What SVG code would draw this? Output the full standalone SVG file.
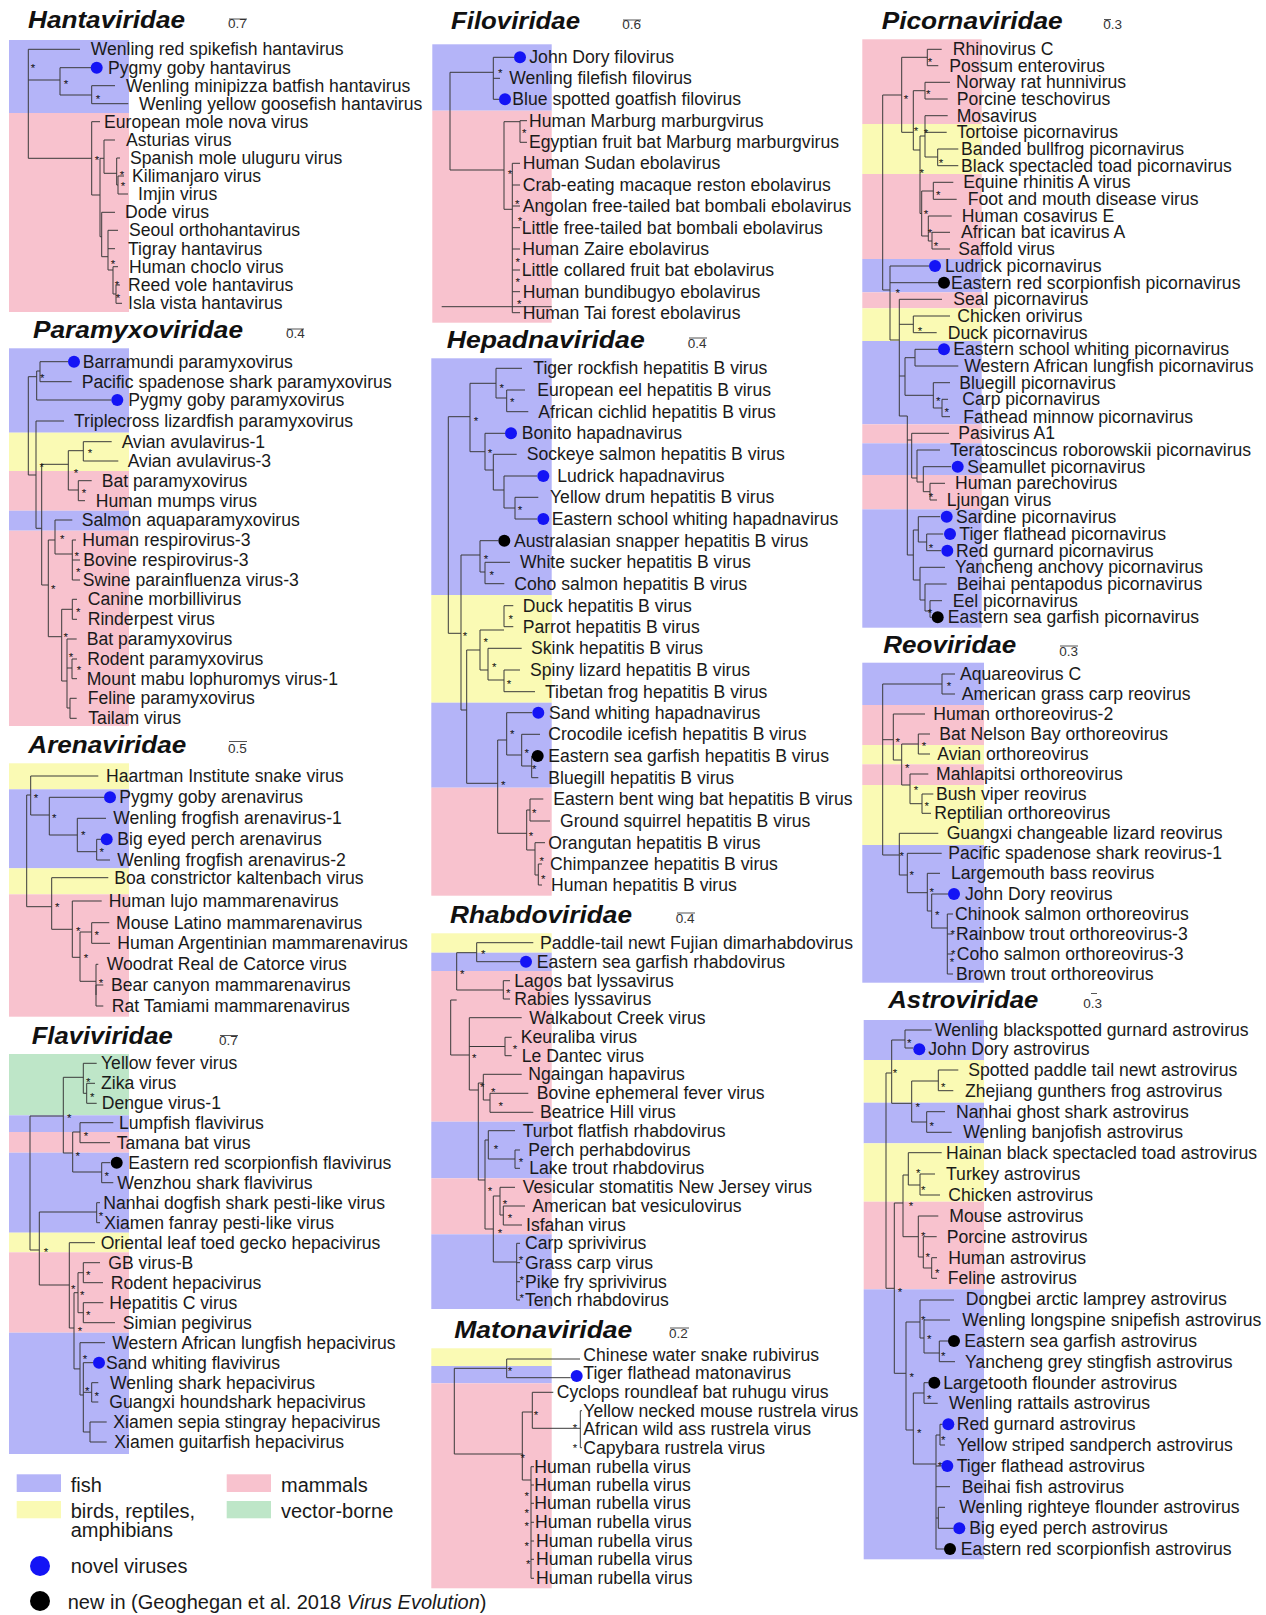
<svg xmlns="http://www.w3.org/2000/svg" width="1266" height="1615" viewBox="0 0 1266 1615">
<style>
.t{font-family:"Liberation Sans",Arial,sans-serif;font-size:17.6px;fill:#1a1a1a}
.h{font-family:"Liberation Sans",Arial,sans-serif;font-size:23px;font-weight:bold;font-style:italic;fill:#111}
.s{font-family:"Liberation Sans",Arial,sans-serif;font-size:13.5px;fill:#333}
.a{font-family:"Liberation Sans",Arial,sans-serif;font-size:11.5px;fill:#111;text-anchor:middle;transform:translateY(1.8px)}
.lg{font-family:"Liberation Sans",Arial,sans-serif;font-size:20px;fill:#1a1a1a}
.br{fill:none;stroke:#3a3a3a;stroke-width:1}
.sb{fill:none;stroke:#555;stroke-width:1}
.fi{fill:#b4b4f8}.ma{fill:#f8c2ce}.bi{fill:#fafab4}.ve{fill:#bee6c8}
.nv{fill:#1414f5}.nw{fill:#000}
</style>
<rect width="1266" height="1615" fill="#fff"/>

<!-- Hantaviridae -->
<g id="hantaviridae">
<rect class="fi" x="9" y="40" width="120" height="73"/><rect class="ma" x="9" y="113" width="120" height="199"/>
<text class="h" x="28" y="28.3" textLength="157" lengthAdjust="spacingAndGlyphs">Hantaviridae</text>
<path class="sb" d="M229 19H247"/><text class="s" x="228" y="28.3">0.7</text>
<g id="hanta-branches"><path class="br" d="M28.3 49.3V158.3M28.3 49.3H80M28.3 80H60M28.3 158.3H91.7M60 67.7V95M60 67.7H91M60 95H91.7M91.7 85.7V103.7M91.7 85.7H115M91.7 103.7H128.3M91.7 121.7V195M91.7 121.7H100M91.7 195H100M100 158.3V236.7M100 158.3H104M100 236.7H101.7M104 140V173.3M104 140H115M104 173.3H116.7M116.7 158V185M116.7 158H120M116.7 185H118M118 176V194M118 176H124M118 194H128M101.7 212.3V256.7M101.7 212.3H115M101.7 256.7H108M108 230.3V270M108 230.3H118M108 248.7H115M108 270H113M113 266.7V294M113 266.7H118M113 294H116M116 285V303.3M116 285H120M116 303.3H122"/></g>
<circle class="nv" cx="96.7" cy="67.7" r="6"/>
<text class="t" x="90.7" y="55.3">Wenling red spikefish hantavirus</text>
<text class="t" x="108" y="73.7">Pygmy goby hantavirus</text>
<text class="t" x="126" y="91.7">Wenling minipizza batfish hantavirus</text>
<text class="t" x="139" y="109.7">Wenling yellow goosefish hantavirus</text>
<text class="t" x="104" y="127.7">European mole nova virus</text>
<text class="t" x="126" y="146">Asturias virus</text>
<text class="t" x="130" y="164">Spanish mole uluguru virus</text>
<text class="t" x="132" y="182">Kilimanjaro virus</text>
<text class="t" x="138" y="200">Imjin virus</text>
<text class="t" x="125" y="218.3">Dode virus</text>
<text class="t" x="129" y="236.3">Seoul orthohantavirus</text>
<text class="t" x="128" y="254.7">Tigray hantavirus</text>
<text class="t" x="129" y="272.7">Human choclo virus</text>
<text class="t" x="128" y="291">Reed vole hantavirus</text>
<text class="t" x="128" y="309.3">Isla vista hantavirus</text>
<text class="a" x="33" y="70">*</text><text class="a" x="66" y="86">*</text><text class="a" x="98" y="101">*</text><text class="a" x="97" y="162">*</text><text class="a" x="122" y="177">*</text><text class="a" x="123" y="188">*</text><text class="a" x="113" y="266">*</text><text class="a" x="117" y="287">*</text><text class="a" x="118" y="300">*</text>
</g>

<!-- Paramyxoviridae -->
<g id="paramyxoviridae">
<rect class="fi" x="9" y="348.3" width="120" height="84.4"/><rect class="bi" x="9" y="432.7" width="120" height="38.3"/><rect class="ma" x="9" y="471" width="120" height="39.7"/><rect class="fi" x="9" y="510.7" width="120" height="20"/><rect class="ma" x="9" y="530.7" width="120" height="195.3"/>
<text class="h" x="33" y="338.3" textLength="210" lengthAdjust="spacingAndGlyphs">Paramyxoviridae</text>
<path class="sb" d="M287 329H304"/><text class="s" x="286" y="338.3">0.4</text>
<g id="paramyxo-branches"><path class="br" d="M28.3 376.7V475M28.3 376.7H36.7M36.7 371V400M36.7 371H40M40 361.7V381.7M40 361.7H68M40 381.7H71.7M36.7 400H111.3M28.3 475H36M36 421V528.3M36 421H64M36 528.3H41.7M41.7 464.3V585M41.7 464.3H68.3M68.3 450.7V490M68.3 450.7H83.3M83.3 441.7V461M83.3 441.7H111.7M83.3 461H118.3M68.3 490H78.3M78.3 480.7V500.7M78.3 480.7H91.7M78.3 500.7H85M41.7 585H48.3M48.3 540V636.7M48.3 540H55M55 520V554M55 520H72.3M55 554H72.3M72.3 540V580M72.3 540H76M72.3 560H80M72.3 580H80M48.3 636.7H61.7M61.7 609.3V681M61.7 609.3H72.3M72.3 599.3V619.3M72.3 599.3H77M72.3 619.3H77M61.7 681H67M67 639V708M67 639H76.7M67 668H72M72 659V678.7M72 659H77M72 678.7H77M67 708H70M70 698.3V718.3M70 698.3H76.7M70 718.3H76.7"/></g>
<circle class="nv" cx="74" cy="361.7" r="6"/><circle class="nv" cx="117.3" cy="400" r="6"/>
<text class="t" x="82.7" y="367.7">Barramundi paramyxovirus</text>
<text class="t" x="81.7" y="387.7">Pacific spadenose shark paramyxovirus</text>
<text class="t" x="128.3" y="406">Pygmy goby paramyxovirus</text>
<text class="t" x="74" y="427">Triplecross lizardfish paramyxovirus</text>
<text class="t" x="121.7" y="447.7">Avian avulavirus-1</text>
<text class="t" x="127.7" y="467">Avian avulavirus-3</text>
<text class="t" x="101.7" y="486.7">Bat paramyxovirus</text>
<text class="t" x="95.7" y="506.7">Human mumps virus</text>
<text class="t" x="81.7" y="526">Salmon aquaparamyxovirus</text>
<text class="t" x="82.3" y="546">Human respirovirus-3</text>
<text class="t" x="83.3" y="566">Bovine respirovirus-3</text>
<text class="t" x="82.7" y="586">Swine parainfluenza virus-3</text>
<text class="t" x="87.7" y="605.3">Canine morbillivirus</text>
<text class="t" x="87.7" y="625.3">Rinderpest virus</text>
<text class="t" x="86.7" y="645">Bat paramyxovirus</text>
<text class="t" x="87.3" y="665">Rodent paramyxovirus</text>
<text class="t" x="86.7" y="684.7">Mount mabu lophuromys virus-1</text>
<text class="t" x="87.7" y="704.3">Feline paramyxovirus</text>
<text class="t" x="88.3" y="724.3">Tailam virus</text>
<text class="a" x="42.3" y="380">*</text><text class="a" x="90" y="455">*</text><text class="a" x="41.7" y="469.3">*</text><text class="a" x="76" y="475.7">*</text><text class="a" x="84" y="495">*</text><text class="a" x="62.3" y="541.7">*</text><text class="a" x="76.7" y="558.3">*</text><text class="a" x="78.3" y="574.3">*</text><text class="a" x="53.3" y="591.7">*</text><text class="a" x="78.3" y="614.3">*</text><text class="a" x="65.7" y="639.3">*</text><text class="a" x="71" y="659">*</text><text class="a" x="79" y="672.7">*</text>
</g>

<!-- Arenaviridae -->
<g id="arenaviridae">
<rect class="bi" x="9" y="763.3" width="120" height="26"/><rect class="fi" x="9" y="789.3" width="120" height="79"/><rect class="bi" x="9" y="868.3" width="120" height="26"/><rect class="ma" x="9" y="894.3" width="120" height="122.4"/>
<text class="h" x="28.3" y="752.7" textLength="158" lengthAdjust="spacingAndGlyphs">Arenaviridae</text>
<path class="sb" d="M229 741.5H247"/><text class="s" x="228" y="752.7">0.5</text>
<g id="arena-branches"><path class="br" d="M30.7 776V815M30.7 776H98.3M30.7 815H49.3M26.7 795V906.7M26.7 795H30.7M49.3 797.3V835M49.3 797.3H104M49.3 835H77.3M77.3 818.3V851.7M77.3 818.3H106M77.3 851.7H96.7M96.7 839.3V860M96.7 839.3H101M96.7 860H110M26.7 906.7H51.7M51.7 877.7V929.3M51.7 877.7H108.3M51.7 929.3H72.3M72.3 901V957.3M72.3 901H101.7M72.3 957.3H80M80 932V981.3M80 932H91.7M80 981.3H96M91.7 922.7V943.3M91.7 922.7H109.3M91.7 943.3H110M96 964.3V995M96 964.3H98.3M96 985V1006M96 985H103.3M96 1006H103.3"/></g>
<circle class="nv" cx="110" cy="797.3" r="6"/><circle class="nv" cx="106.7" cy="839.3" r="6"/>
<text class="t" x="106" y="782">Haartman Institute snake virus</text>
<text class="t" x="119.3" y="803.3">Pygmy goby arenavirus</text>
<text class="t" x="113.3" y="824.3">Wenling frogfish arenavirus-1</text>
<text class="t" x="117.3" y="845.3">Big eyed perch arenavirus</text>
<text class="t" x="117.3" y="866">Wenling frogfish arenavirus-2</text>
<text class="t" x="114.3" y="883.7">Boa constrictor kaltenbach virus</text>
<text class="t" x="108.7" y="907">Human lujo mammarenavirus</text>
<text class="t" x="116" y="928.7">Mouse Latino mammarenavirus</text>
<text class="t" x="117.3" y="949.3">Human Argentinian mammarenavirus</text>
<text class="t" x="106.7" y="970.3">Woodrat Real de Catorce virus</text>
<text class="t" x="111" y="991">Bear canyon mammarenavirus</text>
<text class="t" x="111.7" y="1012">Rat Tamiami mammarenavirus</text>
<text class="a" x="36" y="800">*</text><text class="a" x="54.3" y="820">*</text><text class="a" x="83.3" y="837.3">*</text><text class="a" x="101.7" y="854.3">*</text><text class="a" x="57.3" y="909.3">*</text><text class="a" x="78.3" y="933.3">*</text><text class="a" x="96.7" y="937.7">*</text><text class="a" x="86" y="960.7">*</text><text class="a" x="101" y="985">*</text>
</g>

<!-- Flaviviridae -->
<g id="flaviviridae">
<rect class="ve" x="9" y="1054" width="120" height="61.3"/><rect class="fi" x="9" y="1115.3" width="120" height="16.7"/><rect class="ma" x="9" y="1132" width="120" height="20.7"/><rect class="fi" x="9" y="1152.7" width="120" height="80"/><rect class="bi" x="9" y="1232.7" width="120" height="19.6"/><rect class="ma" x="9" y="1252.3" width="120" height="80.4"/><rect class="fi" x="9" y="1332.7" width="120" height="121.3"/>
<text class="h" x="31.7" y="1044.3" textLength="141" lengthAdjust="spacingAndGlyphs">Flaviviridae</text>
<path class="sb" d="M220 1035.5H238"/><text class="s" x="219" y="1045">0.7</text>
<g id="flavi-branches"><path class="br" d="M30 1116V1250M30 1116H63.3M63.3 1077.3V1153M63.3 1077.3H83.3M63.3 1153H72.7M83.3 1063.3V1093.3M83.3 1063.3H96.7M83.3 1093.3H86.7M86.7 1083.3V1103.3M86.7 1083.3H95M86.7 1103.3H96.7M72.7 1132V1172M72.7 1132H80M80 1122.7V1142.7M80 1122.7H113.3M80 1142.7H110M72.7 1172H101.7M101.7 1162.7V1182.7M101.7 1162.7H110M101.7 1182.7H113.3M30 1250H39.3M39.3 1212V1285M39.3 1212H96.7M96.7 1202.7V1222.7M96.7 1202.7H100M96.7 1222.7H100M39.3 1285H69.3M69.3 1242.7V1328M69.3 1242.7H95M69.3 1328H74M74 1292.7V1368.9M74 1292.7H78M78 1272.7V1312.7M78 1272.7H83.3M78 1312.7H83.3M83.3 1262.7V1282.7M83.3 1262.7H100M83.3 1282.7H103M83.3 1302.7V1322.7M83.3 1302.7H103.3M83.3 1322.7H115M74 1368.9H80M80 1342.7V1395M80 1342.7H105M80 1395H83.3M83.3 1362.7V1432M83.3 1362.7H93M83.3 1392.3H91.7M91.7 1382.7V1402M91.7 1382.7H98.3M91.7 1402H98.3M83.3 1432H90M90 1422V1442M90 1422H106.7M90 1442H106.7"/></g>
<circle class="nw" cx="116.7" cy="1162.7" r="6"/><circle class="nv" cx="99" cy="1362.7" r="6"/>
<text class="t" x="101" y="1069.3">Yellow fever virus</text>
<text class="t" x="101" y="1089.3">Zika virus</text>
<text class="t" x="101.7" y="1109.3">Dengue virus-1</text>
<text class="t" x="119" y="1128.7">Lumpfish flavivirus</text>
<text class="t" x="116.7" y="1148.7">Tamana bat virus</text>
<text class="t" x="128.3" y="1168.7">Eastern red scorpionfish flavivirus</text>
<text class="t" x="117.3" y="1188.7">Wenzhou shark flavivirus</text>
<text class="t" x="103.3" y="1208.7">Nanhai dogfish shark pesti-like virus</text>
<text class="t" x="104.3" y="1228.7">Xiamen fanray pesti-like virus</text>
<text class="t" x="100.7" y="1248.7">Oriental leaf toed gecko hepacivirus</text>
<text class="t" x="108.3" y="1268.7">GB virus-B</text>
<text class="t" x="110.7" y="1288.7">Rodent hepacivirus</text>
<text class="t" x="109.3" y="1308.7">Hepatitis C virus</text>
<text class="t" x="122.7" y="1328.7">Simian pegivirus</text>
<text class="t" x="112.3" y="1348.7">Western African lungfish hepacivirus</text>
<text class="t" x="106" y="1368.7">Sand whiting flavivirus</text>
<text class="t" x="110" y="1388.7">Wenling shark hepacivirus</text>
<text class="t" x="109.3" y="1408">Guangxi houndshark hepacivirus</text>
<text class="t" x="113.3" y="1428">Xiamen sepia stingray hepacivirus</text>
<text class="t" x="114.3" y="1448">Xiamen guitarfish hepacivirus</text>
<text class="a" x="88.3" y="1084.3">*</text><text class="a" x="92.3" y="1099">*</text><text class="a" x="69.3" y="1120">*</text><text class="a" x="86" y="1138.3">*</text><text class="a" x="77.7" y="1158.3">*</text><text class="a" x="106.7" y="1178.3">*</text><text class="a" x="101" y="1218.3">*</text><text class="a" x="46" y="1254.3">*</text><text class="a" x="88.3" y="1277.7">*</text><text class="a" x="73.3" y="1291">*</text><text class="a" x="82.3" y="1297.7">*</text><text class="a" x="88.3" y="1317.7">*</text><text class="a" x="80" y="1333.3">*</text><text class="a" x="85" y="1361.7">*</text><text class="a" x="87.3" y="1393.3">*</text><text class="a" x="96.7" y="1398.3">*</text>
</g>

<!-- Legend -->
<g id="legend">
<rect class="fi" x="16.7" y="1474.3" width="44.3" height="17.7"/><text class="lg" x="70.7" y="1492">fish</text>
<rect class="bi" x="16.7" y="1501" width="44.3" height="17.3"/><text class="lg" x="70.7" y="1518.3">birds, reptiles,</text><text class="lg" x="70.7" y="1537.3">amphibians</text>
<rect class="ma" x="226.7" y="1474.3" width="44.3" height="17.7"/><text class="lg" x="281" y="1492">mammals</text>
<rect class="ve" x="226.7" y="1501" width="44.3" height="17.3"/><text class="lg" x="281" y="1518.3">vector-borne</text>
<circle class="nv" cx="40" cy="1566" r="10"/><text class="lg" x="70.7" y="1573.3">novel viruses</text>
<circle class="nw" cx="40" cy="1601" r="10"/><text class="lg" x="67.7" y="1609.3">new in (Geoghegan et al. 2018 <tspan font-style="italic">Virus Evolution</tspan>)</text>
</g>

<!-- Filoviridae -->
<g id="filoviridae">
<rect class="fi" x="432.3" y="44.3" width="119.4" height="66.4"/><rect class="ma" x="432.3" y="110.7" width="119.4" height="212"/>
<text class="h" x="451" y="29.3" textLength="129" lengthAdjust="spacingAndGlyphs">Filoviridae</text>
<path class="sb" d="M623 20H641"/><text class="s" x="622.3" y="29.3">0.6</text>
<g id="filo-branches"><path class="br" d="M450 72.3V170M450 72.3H493.3M450 170H504M493.3 57.3V99.3M493.3 57.3H514M493.3 78.3H500M493.3 99.3H499M504 121.7V209.3M504 121.7H520M504 209.3H512.3M520 120.7V142.3M520 120.7H527M520 142.3H527M512.3 163.3V312.7M512.3 163.3H520M512.3 185H520M512.3 206H520M512.3 227.7H520M512.3 249H520M512.3 270H520M512.3 291.7H520M512.3 312.7H520M441.7 306.7H551.7"/></g>
<circle class="nv" cx="520" cy="57.3" r="6"/><circle class="nv" cx="505" cy="99.3" r="6"/>
<text class="t" x="529.3" y="63.3">John Dory filovirus</text>
<text class="t" x="509.3" y="84.3">Wenling filefish filovirus</text>
<text class="t" x="512.3" y="105.3">Blue spotted goatfish filovirus</text>
<text class="t" x="529" y="126.7">Human Marburg marburgvirus</text>
<text class="t" x="529" y="148.3">Egyptian fruit bat Marburg marburgvirus</text>
<text class="t" x="522.7" y="169.3">Human Sudan ebolavirus</text>
<text class="t" x="522.7" y="191">Crab-eating macaque reston ebolavirus</text>
<text class="t" x="522.7" y="212">Angolan free-tailed bat bombali ebolavirus</text>
<text class="t" x="521.7" y="233.7">Little free-tailed bat bombali ebolavirus</text>
<text class="t" x="522.3" y="255">Human Zaire ebolavirus</text>
<text class="t" x="521.7" y="276">Little collared fruit bat ebolavirus</text>
<text class="t" x="522.7" y="297.7">Human bundibugyo ebolavirus</text>
<text class="t" x="522.7" y="318.7">Human Tai forest ebolavirus</text>
<text class="a" x="500.3" y="75.7">*</text><text class="a" x="524.3" y="135.7">*</text><text class="a" x="510" y="176.7">*</text><text class="a" x="517.3" y="206">*</text><text class="a" x="520" y="223.3">*</text><text class="a" x="517.7" y="264.3">*</text><text class="a" x="517.7" y="284.3">*</text><text class="a" x="519.3" y="306.7">*</text>
</g>

<!-- Hepadnaviridae -->
<g id="hepadnaviridae">
<rect class="fi" x="431.3" y="358.3" width="120.4" height="236.7"/><rect class="bi" x="431.3" y="595" width="120.4" height="107.7"/><rect class="fi" x="431.3" y="702.7" width="120.4" height="85"/><rect class="ma" x="431.3" y="787.7" width="120.4" height="108"/>
<text class="h" x="446.7" y="347.7" textLength="198" lengthAdjust="spacingAndGlyphs">Hepadnaviridae</text>
<path class="sb" d="M689 338H707"/><text class="s" x="687.7" y="347.7">0.4</text>
<g id="hepadna-branches"><path class="br" d="M448.3 416.7V633.3M448.3 416.7H470M470 383.3V451.7M470 383.3H496M470 451.7H485M496 368.3V398M496 368.3H522M496 398H506.7M506.7 390V411.7M506.7 390H525M506.7 411.7H528.3M485 433.3V470M485 433.3H505M485 470H493.3M493.3 454.3V490M493.3 454.3H516.7M493.3 490H504M504 476V508M504 476H537M504 508H515M515 497.3V519M515 497.3H538.3M515 519H537M448.3 633.3H461M461 555V710M461 555H480M461 710H466.7M466.7 650V783.3M466.7 650H480M466.7 783.3H497.7M480 540.7V572M480 540.7H498M480 572H485M485 562.3V583.7M485 562.3H510M485 583.7H504.3M480 630V670M480 630H504M480 670H488M504 605.7V626.7M504 605.7H513.3M504 626.7H513.3M488 648.3V680M488 648.3H521.7M488 680H504M504 670V691.7M504 670H520M504 691.7H535M497.7 740V833.3M497.7 740H506.7M497.7 833.3H526.7M506.7 712.7V755M506.7 712.7H532M506.7 755H521.7M521.7 734.3V766M521.7 734.3H540M521.7 766H531.7M531.7 756V777.7M531.7 777.7H538.3M526.7 810V850M526.7 810H530M526.7 850H535M530 799V821M530 799H543.3M530 821H550M535 842.7V875M535 842.7H545M535 875H538.3M538.3 864V885M538.3 864H542M538.3 885H542"/></g>
<circle class="nv" cx="511" cy="433.3" r="6"/><circle class="nv" cx="543.3" cy="476" r="6"/><circle class="nv" cx="543.3" cy="519" r="6"/><circle class="nw" cx="504.3" cy="540.7" r="6"/><circle class="nv" cx="538.3" cy="712.7" r="6"/><circle class="nw" cx="537.7" cy="756" r="6"/>
<text class="t" x="533.3" y="374.3">Tiger rockfish hepatitis B virus</text>
<text class="t" x="537.3" y="396">European eel hepatitis B virus</text>
<text class="t" x="538.3" y="417.7">African cichlid hepatitis B virus</text>
<text class="t" x="521.7" y="439.3">Bonito hapadnavirus</text>
<text class="t" x="526.7" y="460.3">Sockeye salmon hepatitis B virus</text>
<text class="t" x="557.3" y="482">Ludrick hapadnavirus</text>
<text class="t" x="550" y="503.3">Yellow drum hepatitis B virus</text>
<text class="t" x="551.7" y="525">Eastern school whiting hapadnavirus</text>
<text class="t" x="514" y="546.7">Australasian snapper hepatitis B virus</text>
<text class="t" x="520" y="568.3">White sucker hepatitis B virus</text>
<text class="t" x="514.3" y="589.7">Coho salmon hepatitis B virus</text>
<text class="t" x="522.7" y="611.7">Duck hepatitis B virus</text>
<text class="t" x="522.7" y="632.7">Parrot hepatitis B virus</text>
<text class="t" x="531" y="654.3">Skink hepatitis B virus</text>
<text class="t" x="530" y="676">Spiny lizard hepatitis B virus</text>
<text class="t" x="545" y="697.7">Tibetan frog hepatitis B virus</text>
<text class="t" x="549" y="718.7">Sand whiting hapadnavirus</text>
<text class="t" x="548.3" y="740.3">Crocodile icefish hepatitis B virus</text>
<text class="t" x="548.3" y="762">Eastern sea garfish hepatitis B virus</text>
<text class="t" x="548.3" y="783.7">Bluegill hepatitis B virus</text>
<text class="t" x="553.3" y="805">Eastern bent wing bat hepatitis B virus</text>
<text class="t" x="560" y="827">Ground squirrel hepatitis B virus</text>
<text class="t" x="548.3" y="848.7">Orangutan hepatitis B virus</text>
<text class="t" x="550" y="870">Chimpanzee hepatitis B virus</text>
<text class="t" x="551" y="891">Human hepatitis B virus</text>
<text class="a" x="501.7" y="390">*</text><text class="a" x="512.3" y="404">*</text><text class="a" x="476" y="423.3">*</text><text class="a" x="490" y="455">*</text><text class="a" x="520" y="512.3">*</text><text class="a" x="486" y="561.7">*</text><text class="a" x="491.7" y="577.7">*</text><text class="a" x="510.7" y="621">*</text><text class="a" x="465" y="638.3">*</text><text class="a" x="485.7" y="644.3">*</text><text class="a" x="494.3" y="669.3">*</text><text class="a" x="509" y="686">*</text><text class="a" x="512.3" y="736.7">*</text><text class="a" x="526.7" y="755">*</text><text class="a" x="534.3" y="771">*</text><text class="a" x="503.3" y="787.7">*</text><text class="a" x="534.3" y="815">*</text><text class="a" x="531" y="838.3">*</text><text class="a" x="541.7" y="863.3">*</text><text class="a" x="543.3" y="881">*</text>
</g>

<!-- Rhabdoviridae -->
<g id="rhabdoviridae">
<rect class="bi" x="431.3" y="933.3" width="120.4" height="19.4"/><rect class="fi" x="431.3" y="952.7" width="120.4" height="18.3"/><rect class="ma" x="431.3" y="971" width="120.4" height="150.7"/><rect class="fi" x="431.3" y="1121.7" width="120.4" height="56.6"/><rect class="ma" x="431.3" y="1178.3" width="120.4" height="56"/><rect class="fi" x="431.3" y="1234.3" width="120.4" height="74.7"/>
<text class="h" x="450" y="922.7" textLength="182" lengthAdjust="spacingAndGlyphs">Rhabdoviridae</text>
<path class="sb" d="M677 913H695"/><text class="s" x="675.7" y="922.7">0.4</text>
<g id="rhabdo-branches"><path class="br" d="M450.7 1000V1055M450.7 1000H456.7M450.7 1055H469.3M456.7 952.7V990M456.7 952.7H476.7M456.7 990H503.3M476.7 942.7V961.7M476.7 942.7H533.3M476.7 961.7H520M503.3 980.7V999M503.3 980.7H510M503.3 999H510M469.3 1017.7V1090M469.3 1017.7H521.7M469.3 1046.5H505M469.3 1090H478.3M505 1037.3V1055.7M505 1037.3H511.7M505 1055.7H511.7M478.3 1083V1180M478.3 1083H483.3M478.3 1180H485M483.3 1074.3V1100M483.3 1074.3H521.7M483.3 1100H490M490 1093.3V1112.3M490 1093.3H528.3M490 1112.3H533.3M485 1140V1229M485 1140H488.3M485 1229H493.3M488.3 1130.7V1159M488.3 1130.7H515M488.3 1159H515M515 1150V1168.3M515 1150H520M515 1168.3H520M493.3 1196V1262M493.3 1196H500M493.3 1262H516.7M500 1187.3V1215M500 1187.3H515M500 1215H503.3M503.3 1206V1225M503.3 1206H525M503.3 1225H522M516.7 1243.3V1300M516.7 1243.3H520M516.7 1262.7H520M516.7 1281.7H520M516.7 1300H520"/></g>
<circle class="nv" cx="526" cy="961.7" r="6"/>
<text class="t" x="540" y="948.7">Paddle-tail newt Fujian dimarhabdovirus</text>
<text class="t" x="536.7" y="967.7">Eastern sea garfish rhabdovirus</text>
<text class="t" x="514.3" y="986.7">Lagos bat lyssavirus</text>
<text class="t" x="514.3" y="1005">Rabies lyssavirus</text>
<text class="t" x="529.3" y="1023.7">Walkabout Creek virus</text>
<text class="t" x="520.7" y="1043.3">Keuraliba virus</text>
<text class="t" x="521.7" y="1061.7">Le Dantec virus</text>
<text class="t" x="528.3" y="1080.3">Ngaingan hapavirus</text>
<text class="t" x="536.7" y="1099.3">Bovine ephemeral fever virus</text>
<text class="t" x="540" y="1118.3">Beatrice Hill virus</text>
<text class="t" x="522.7" y="1136.7">Turbot flatfish rhabdovirus</text>
<text class="t" x="528.3" y="1156">Perch perhabdovirus</text>
<text class="t" x="529.3" y="1174.3">Lake trout rhabdovirus</text>
<text class="t" x="522.7" y="1193.3">Vesicular stomatitis New Jersey virus</text>
<text class="t" x="532.3" y="1212">American bat vesiculovirus</text>
<text class="t" x="526" y="1231">Isfahan virus</text>
<text class="t" x="525" y="1249.3">Carp sprivivirus</text>
<text class="t" x="525" y="1268.7">Grass carp virus</text>
<text class="t" x="525" y="1287.7">Pike fry sprivivirus</text>
<text class="t" x="525" y="1306">Tench rhabdovirus</text>
<text class="a" x="483.3" y="956.7">*</text><text class="a" x="462.3" y="976.7">*</text><text class="a" x="508.3" y="995.7">*</text><text class="a" x="474.3" y="1060.7">*</text><text class="a" x="515" y="1051.7">*</text><text class="a" x="482.3" y="1089.3">*</text><text class="a" x="493.3" y="1094.3">*</text><text class="a" x="500.7" y="1108.3">*</text><text class="a" x="496" y="1151.7">*</text><text class="a" x="521" y="1164.3">*</text><text class="a" x="490" y="1193.3">*</text><text class="a" x="505" y="1206.7">*</text><text class="a" x="510" y="1220">*</text><text class="a" x="500" y="1235.7">*</text><text class="a" x="521" y="1262.3">*</text><text class="a" x="521.7" y="1282.3">*</text><text class="a" x="521.7" y="1300">*</text>
</g>

<!-- Matonaviridae -->
<g id="matonaviridae">
<rect class="bi" x="431.3" y="1348.3" width="120.4" height="17.7"/><rect class="fi" x="431.3" y="1366" width="120.4" height="17.3"/><rect class="ma" x="431.3" y="1383.3" width="120.4" height="205"/>
<text class="h" x="454.3" y="1338.3" textLength="178" lengthAdjust="spacingAndGlyphs">Matonaviridae</text>
<path class="sb" d="M670 1328H689"/><text class="s" x="669" y="1338.3">0.2</text>
<g id="matona-branches"><path class="br" d="M454.3 1368.3V1454M454.3 1368.3H506.7M454.3 1454H522.3M506.7 1359V1377.7M506.7 1359H580M506.7 1377.7H570.7M522.3 1412V1480M522.3 1412H532.3M522.3 1480H531M532.3 1392.3V1428.3M532.3 1392.3H553.3M532.3 1428.3H580.3M580.3 1410.7V1447.7M580.3 1410.7H582M580.3 1447.7H582M531 1466.7V1578.3M531 1466.7H534M531 1485H534M531 1503.3H534M531 1522.3H534M531 1541H534M531 1559.3H534M531 1578.3H534"/></g>
<circle class="nv" cx="576.7" cy="1376" r="6"/>
<text class="t" x="583.3" y="1361">Chinese water snake rubivirus</text>
<text class="t" x="583.3" y="1379.3">Tiger flathead matonavirus</text>
<text class="t" x="556.7" y="1398.3">Cyclops roundleaf bat ruhugu virus</text>
<text class="t" x="583.3" y="1416.7">Yellow necked mouse rustrela virus</text>
<text class="t" x="583.3" y="1435.3">African wild ass rustrela virus</text>
<text class="t" x="583.3" y="1453.7">Capybara rustrela virus</text>
<text class="t" x="534.3" y="1472.7">Human rubella virus</text>
<text class="t" x="534.3" y="1491">Human rubella virus</text>
<text class="t" x="534.3" y="1509.3">Human rubella virus</text>
<text class="t" x="535" y="1528.3">Human rubella virus</text>
<text class="t" x="536" y="1547">Human rubella virus</text>
<text class="t" x="536" y="1565.3">Human rubella virus</text>
<text class="t" x="536" y="1584.3">Human rubella virus</text>
<text class="a" x="510" y="1373.3">*</text><text class="a" x="536" y="1417.3">*</text><text class="a" x="575" y="1430.7">*</text><text class="a" x="575" y="1450">*</text><text class="a" x="522.7" y="1460">*</text><text class="a" x="526.7" y="1498.3">*</text><text class="a" x="526.7" y="1515">*</text><text class="a" x="526.7" y="1528.3">*</text><text class="a" x="526.7" y="1548.3">*</text><text class="a" x="528.3" y="1566.7">*</text>
</g>

<!-- Picornaviridae -->
<g id="picornaviridae">
<rect class="ma" x="862.3" y="39.3" width="119.4" height="84.7"/><rect class="bi" x="862.3" y="124" width="119.4" height="50"/><rect class="ma" x="862.3" y="174" width="119.4" height="85"/><rect class="fi" x="862.3" y="259" width="119.4" height="33.3"/><rect class="ma" x="862.3" y="292.3" width="119.4" height="16"/><rect class="bi" x="862.3" y="308.3" width="119.4" height="32.7"/><rect class="fi" x="862.3" y="341" width="119.4" height="83.3"/><rect class="ma" x="862.3" y="424.3" width="119.4" height="19"/><rect class="fi" x="862.3" y="443.3" width="119.4" height="31.7"/><rect class="ma" x="862.3" y="475" width="119.4" height="34.3"/><rect class="fi" x="862.3" y="509.3" width="119.4" height="118.4"/>
<text class="h" x="881.7" y="29.3" textLength="181" lengthAdjust="spacingAndGlyphs">Picornaviridae</text>
<path class="sb" d="M1104 19.5H1111"/><text class="s" x="1103.3" y="29.3">0.3</text>
<g id="picorna-branches"><path class="br" d="M882.7 95V290M882.7 95H901.7M882.7 290H890M901.7 57.3V132.3M901.7 57.3H927.3M901.7 132.3H913.3M927.3 49.3V65.7M927.3 49.3H941.7M927.3 65.7H938.3M913.3 90.7V150M913.3 90.7H925M913.3 150H920M925 82.3V99M925 82.3H950M925 99H947.7M920 136V213.5M920 136H925M920 213.5H921.7M925 115.7V157M925 115.7H947.7M925 132.3H946.7M925 157H937.7M937.7 149V165.7M937.7 149H958.3M937.7 165.7H958.3M921.7 191V236M921.7 191H933.3M921.7 236H928.3M933.3 182.3V199.3M933.3 182.3H953.3M933.3 199.3H956.7M928.3 216V241M928.3 216H951.7M928.3 241H932M932 232.3V249M932 232.3H950M932 249H950M890 266V340M890 266H929M890 282.7H938M890 340H899.3M899.3 299.3V416M899.3 299.3H942M899.3 324.3H913.3M899.3 376H905M899.3 416H907.3M913.3 316V332.7M913.3 316H950M913.3 332.7H936.7M905 357.7V395.3M905 357.7H915M905 395.3H933.3M915 349.3V366M915 349.3H938M915 366H958.3M933.3 382.7V408M933.3 382.7H950M933.3 408H942M942 399.3V416.7M942 399.3H948M942 416.7H950M907.3 416V555M907.3 440H911.7M907.3 555H913.3M911.7 433.3V478M911.7 433.3H949M911.7 478H917M917 450V482M917 450H940M917 482H923.3M923.3 466.7V491.7M923.3 466.7H951M923.3 491.7H930M930 483.3V500M930 483.3H945M930 500H937M913.3 530V580M913.3 530H918.3M913.3 580H920M918.3 516.7V542M918.3 516.7H940M918.3 542H926.7M926.7 534V550.7M926.7 534H943.3M926.7 550.7H941M920 567.3V600M920 567.3H945M920 600H925M925 584V611M925 584H946.7M925 611H930M930 600.7V617.3M930 600.7H942M930 617.3H931.7"/></g>
<circle class="nv" cx="935" cy="266" r="6"/><circle class="nw" cx="944" cy="282.7" r="6"/><circle class="nv" cx="944" cy="349.3" r="6"/><circle class="nv" cx="957.7" cy="466.7" r="6"/><circle class="nv" cx="946.7" cy="516.7" r="6"/><circle class="nv" cx="950" cy="534" r="6"/><circle class="nv" cx="947.3" cy="550.7" r="6"/><circle class="nw" cx="937.7" cy="617.3" r="6"/>
<text class="t" x="952.7" y="55.3">Rhinovirus C</text>
<text class="t" x="949.3" y="71.7">Possum enterovirus</text>
<text class="t" x="956" y="88.3">Norway rat hunnivirus</text>
<text class="t" x="956.7" y="105">Porcine teschovirus</text>
<text class="t" x="956.7" y="121.7">Mosavirus</text>
<text class="t" x="956.7" y="138.3">Tortoise picornavirus</text>
<text class="t" x="961" y="155">Banded bullfrog picornavirus</text>
<text class="t" x="961" y="171.7">Black spectacled toad picornavirus</text>
<text class="t" x="963.3" y="188.3">Equine rhinitis A virus</text>
<text class="t" x="967.7" y="205.3">Foot and mouth disease virus</text>
<text class="t" x="961.7" y="222">Human cosavirus E</text>
<text class="t" x="961" y="238.3">African bat icavirus A</text>
<text class="t" x="958.3" y="255">Saffold virus</text>
<text class="t" x="945" y="272">Ludrick picornavirus</text>
<text class="t" x="951" y="288.7">Eastern red scorpionfish picornavirus</text>
<text class="t" x="953.3" y="305.3">Seal picornavirus</text>
<text class="t" x="957.3" y="322">Chicken orivirus</text>
<text class="t" x="947.7" y="338.7">Duck picornavirus</text>
<text class="t" x="953.3" y="355.3">Eastern school whiting picornavirus</text>
<text class="t" x="964.3" y="372">Western African lungfish picornavirus</text>
<text class="t" x="959.3" y="388.7">Bluegill picornavirus</text>
<text class="t" x="962.3" y="405.3">Carp picornavirus</text>
<text class="t" x="963.3" y="422.7">Fathead minnow picornavirus</text>
<text class="t" x="958.3" y="439.3">Pasivirus A1</text>
<text class="t" x="950" y="456">Teratoscincus roborowskii picornavirus</text>
<text class="t" x="967.3" y="472.7">Seamullet picornavirus</text>
<text class="t" x="955" y="489.3">Human parechovirus</text>
<text class="t" x="946.7" y="506">Ljungan virus</text>
<text class="t" x="956" y="522.7">Sardine picornavirus</text>
<text class="t" x="959.3" y="540">Tiger flathead picornavirus</text>
<text class="t" x="956" y="556.7">Red gurnard picornavirus</text>
<text class="t" x="955" y="573.3">Yancheng anchovy picornavirus</text>
<text class="t" x="956.7" y="590">Beihai pentapodus picornavirus</text>
<text class="t" x="952.7" y="606.7">Eel picornavirus</text>
<text class="t" x="947.7" y="623.3">Eastern sea garfish picornavirus</text>
<text class="a" x="930" y="64.3">*</text><text class="a" x="928.3" y="96.7">*</text><text class="a" x="906" y="101.7">*</text><text class="a" x="916" y="133.3">*</text><text class="a" x="926" y="135">*</text><text class="a" x="941" y="165">*</text><text class="a" x="921.7" y="175.7">*</text><text class="a" x="938.3" y="197.7">*</text><text class="a" x="926" y="216.7">*</text><text class="a" x="930" y="235">*</text><text class="a" x="936" y="248.3">*</text><text class="a" x="897.7" y="295">*</text><text class="a" x="920" y="333.3">*</text><text class="a" x="938.3" y="403.3">*</text><text class="a" x="946.7" y="414">*</text><text class="a" x="931" y="499.3">*</text><text class="a" x="931" y="550">*</text><text class="a" x="930" y="615.7">*</text>
</g>

<!-- Reoviridae -->
<g id="reoviridae">
<rect class="fi" x="862.3" y="662.7" width="121.7" height="42.3"/><rect class="ma" x="862.3" y="705" width="121.7" height="40"/><rect class="bi" x="862.3" y="745" width="121.7" height="19.3"/><rect class="ma" x="862.3" y="764.3" width="121.7" height="20.7"/><rect class="bi" x="862.3" y="785" width="121.7" height="60"/><rect class="fi" x="862.3" y="845" width="121.7" height="137.7"/>
<text class="h" x="883.3" y="653.3" textLength="133" lengthAdjust="spacingAndGlyphs">Reoviridae</text>
<path class="sb" d="M1060 646H1078"/><text class="s" x="1059.3" y="656">0.3</text>
<g id="reo-branches"><path class="br" d="M882.7 684V855M882.7 684H942M942 674V694M942 674H955M942 694H955M882.7 739.7H893.3M893.3 714V760M893.3 714H925M893.3 760H901.7M901.7 744V785M901.7 744H918.3M901.7 785H910M918.3 734V754M918.3 734H930M918.3 754H930M910 774V803.7M910 774H928.3M910 803.7H922M922 794V813.3M922 794H933.3M922 813.3H931M882.7 855H899.3M899.3 833.3V875M899.3 833.3H938.3M899.3 875H907.3M907.3 853.3V892.7M907.3 853.3H941.7M907.3 892.7H927.3M927.3 873.3V911M927.3 873.3H940M927.3 911H931.7M931.7 894V928M931.7 894H948M931.7 928H947.3M947.3 914V974M947.3 914H953M947.3 934H953M947.3 954H953M947.3 974H953"/></g>
<circle class="nv" cx="954" cy="894" r="6"/>
<text class="t" x="960" y="680">Aquareovirus C</text>
<text class="t" x="961.7" y="700">American grass carp reovirus</text>
<text class="t" x="933.3" y="720">Human orthoreovirus-2</text>
<text class="t" x="939.3" y="740">Bat Nelson Bay orthoreovirus</text>
<text class="t" x="937.3" y="760">Avian orthoreovirus</text>
<text class="t" x="936" y="780">Mahlapitsi orthoreovirus</text>
<text class="t" x="936" y="800">Bush viper reovirus</text>
<text class="t" x="934.3" y="819.3">Reptilian orthoreovirus</text>
<text class="t" x="946.7" y="839.3">Guangxi changeable lizard reovirus</text>
<text class="t" x="948.3" y="859.3">Pacific spadenose shark reovirus-1</text>
<text class="t" x="951" y="879.3">Largemouth bass reovirus</text>
<text class="t" x="965" y="900">John Dory reovirus</text>
<text class="t" x="955" y="920">Chinook salmon orthoreovirus</text>
<text class="t" x="956" y="940">Rainbow trout orthoreovirus-3</text>
<text class="t" x="956.7" y="960">Coho salmon orthoreovirus-3</text>
<text class="t" x="956" y="980">Brown trout orthoreovirus</text>
<text class="a" x="949" y="688.3">*</text><text class="a" x="897.7" y="744">*</text><text class="a" x="924" y="748.3">*</text><text class="a" x="907.3" y="770.7">*</text><text class="a" x="916" y="792.7">*</text><text class="a" x="926.7" y="808.3">*</text><text class="a" x="901.7" y="858.3">*</text><text class="a" x="911.7" y="877.7">*</text><text class="a" x="931.7" y="894.3">*</text><text class="a" x="937.3" y="917.7">*</text><text class="a" x="952.7" y="936.7">*</text><text class="a" x="953.3" y="956.7">*</text><text class="a" x="952" y="964.3">*</text>
</g>

<!-- Astroviridae -->
<g id="astroviridae">
<rect class="fi" x="863.7" y="1020" width="120.3" height="40"/><rect class="bi" x="863.7" y="1060" width="120.3" height="42.7"/><rect class="fi" x="863.7" y="1102.7" width="120.3" height="40.6"/><rect class="bi" x="863.7" y="1143.3" width="120.3" height="58.4"/><rect class="ma" x="863.7" y="1201.7" width="120.3" height="87.6"/><rect class="fi" x="863.7" y="1289.3" width="120.3" height="270"/>
<text class="h" x="888.3" y="1008.3" textLength="150" lengthAdjust="spacingAndGlyphs">Astroviridae</text>
<path class="sb" d="M1091 993.5H1097"/><text class="s" x="1083.3" y="1008">0.3</text>
<g id="astro-branches"><path class="br" d="M886 1073V1288.3M886 1073H891.7M891.7 1040V1103.3M891.7 1040H905M891.7 1103.3H911.7M905 1030V1048M905 1030H931.7M905 1048H913.3M911.7 1081V1122M911.7 1081H938.3M911.7 1122H926.7M938.3 1070V1090.7M938.3 1070H958.3M938.3 1090.7H953.3M926.7 1111.7V1132.3M926.7 1111.7H945M926.7 1132.3H951.7M886 1288.3H894.3M894.3 1203V1373.3M894.3 1203H903M894.3 1373.3H906M903 1175V1236.7M903 1175H908.3M903 1236.7H918.3M908.3 1152.7V1185M908.3 1152.7H941.7M908.3 1185H920M920 1174V1195M920 1174H935M920 1195H940M918.3 1216V1257M918.3 1216H938.3M918.3 1257H923.3M923.3 1236.7V1268M923.3 1236.7H936.7M923.3 1268H931.7M931.7 1257.7V1278.3M931.7 1257.7H937M931.7 1278.3H937M906 1322V1430M906 1322H920M906 1430H913.3M920 1300V1338M920 1300H954M920 1338H924M924 1320V1353M924 1320H950M924 1353H939.3M939.3 1341V1361.7M939.3 1341H948M939.3 1361.7H955M913.3 1393V1464M913.3 1393H924M913.3 1464H936M924 1382.7V1403.3M924 1382.7H928.3M924 1403.3H937.7M936 1435V1549M936 1435H940M936 1466H941.3M936 1486.7H950M936 1518H938.3M936 1549H944M940 1424.3V1445M940 1424.3H942.3M940 1445H945M938.3 1507.3V1528.3M938.3 1507.3H945M938.3 1528.3H953.3"/></g>
<circle class="nv" cx="919.3" cy="1049.3" r="6"/><circle class="nw" cx="954" cy="1341" r="6"/><circle class="nw" cx="934.3" cy="1382.7" r="6"/><circle class="nv" cx="948.3" cy="1424.3" r="6"/><circle class="nv" cx="947.3" cy="1466" r="6"/><circle class="nv" cx="959.3" cy="1528.3" r="6"/><circle class="nw" cx="950" cy="1549" r="6"/>
<text class="t" x="935" y="1036">Wenling blackspotted gurnard astrovirus</text>
<text class="t" x="928.3" y="1055.3">John Dory astrovirus</text>
<text class="t" x="968.3" y="1076">Spotted paddle tail newt astrovirus</text>
<text class="t" x="965" y="1096.7">Zhejiang gunthers frog astrovirus</text>
<text class="t" x="956" y="1117.7">Nanhai ghost shark astrovirus</text>
<text class="t" x="963.3" y="1138.3">Wenling banjofish astrovirus</text>
<text class="t" x="946" y="1158.7">Hainan black spectacled toad astrovirus</text>
<text class="t" x="946" y="1180">Turkey astrovirus</text>
<text class="t" x="948.3" y="1201">Chicken astrovirus</text>
<text class="t" x="949.3" y="1222">Mouse astrovirus</text>
<text class="t" x="946.7" y="1242.7">Porcine astrovirus</text>
<text class="t" x="948.3" y="1263.7">Human astrovirus</text>
<text class="t" x="947.7" y="1284.3">Feline astrovirus</text>
<text class="t" x="965.7" y="1305.3">Dongbei arctic lamprey astrovirus</text>
<text class="t" x="962.3" y="1326">Wenling longspine snipefish astrovirus</text>
<text class="t" x="964.3" y="1347">Eastern sea garfish astrovirus</text>
<text class="t" x="965" y="1367.7">Yancheng grey stingfish astrovirus</text>
<text class="t" x="943.3" y="1388.7">Largetooth flounder astrovirus</text>
<text class="t" x="949" y="1409.3">Wenling rattails astrovirus</text>
<text class="t" x="956.7" y="1430.3">Red gurnard astrovirus</text>
<text class="t" x="956.7" y="1451">Yellow striped sandperch astrovirus</text>
<text class="t" x="956.7" y="1472">Tiger flathead astrovirus</text>
<text class="t" x="961.7" y="1492.7">Beihai fish astrovirus</text>
<text class="t" x="959.3" y="1513.3">Wenling righteye flounder astrovirus</text>
<text class="t" x="969.3" y="1534.3">Big eyed perch astrovirus</text>
<text class="t" x="960.7" y="1555">Eastern red scorpionfish astrovirus</text>
<text class="a" x="909.3" y="1045">*</text><text class="a" x="895" y="1075.7">*</text><text class="a" x="943.3" y="1089">*</text><text class="a" x="917.7" y="1109">*</text><text class="a" x="931.7" y="1128.3">*</text><text class="a" x="918.3" y="1175.7">*</text><text class="a" x="923.3" y="1192.3">*</text><text class="a" x="911" y="1208.3">*</text><text class="a" x="923.3" y="1238.3">*</text><text class="a" x="927.7" y="1259">*</text><text class="a" x="937.3" y="1275.7">*</text><text class="a" x="900" y="1294.3">*</text><text class="a" x="923.3" y="1322.3">*</text><text class="a" x="929.3" y="1341.7">*</text><text class="a" x="943.3" y="1358.3">*</text><text class="a" x="911.7" y="1379">*</text><text class="a" x="929.3" y="1401.7">*</text><text class="a" x="919.3" y="1435">*</text><text class="a" x="943.3" y="1442.3">*</text><text class="a" x="940" y="1468.3">*</text>
</g>
</svg>
